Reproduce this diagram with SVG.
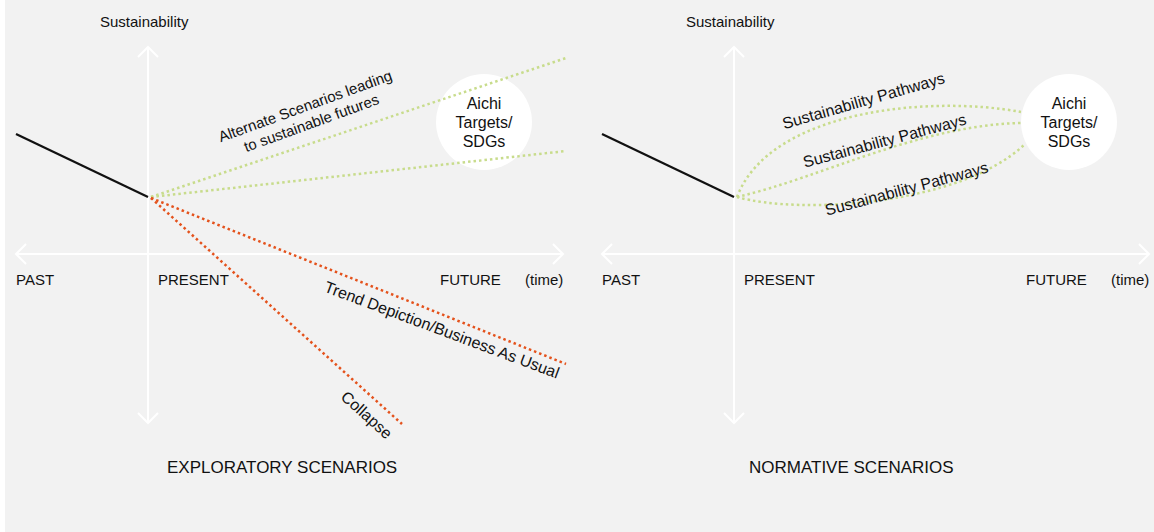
<svg xmlns="http://www.w3.org/2000/svg" width="1154" height="532" viewBox="0 0 1154 532">
<defs>
<style>
.bg{fill:#f2f2f2}
.axis{stroke:#ffffff;stroke-width:2;fill:none}
.past{stroke:#111111;stroke-width:2.2;fill:none}
.green{stroke:#c8dc8c;stroke-width:2.5;stroke-dasharray:2.5 3;fill:none}
.red{stroke:#e4521c;stroke-width:2.5;stroke-dasharray:2.5 3;fill:none}
text{font-family:"Liberation Sans",Arial,Helvetica,sans-serif;fill:#111111}
.lbl{font-size:15px}
.rot{font-size:16px;text-anchor:middle}
.rot15{font-size:15px;text-anchor:middle}
.node{fill:#ffffff}
.nt{font-size:16px;text-anchor:middle}
.title{font-size:17px}
</style>
</defs>
<rect class="bg" x="5" y="0" width="1149" height="532"/>

<!-- LEFT PANEL: EXPLORATORY -->
<g id="left-axes">
<path class="axis" d="M148,47 V423 M138,57 L148,47 L158,57 M138,413 L148,423 L158,413"/>
<path class="axis" d="M16,254 H563 M26,244 L16,254 L26,264 M553,244 L563,254 L553,264"/>
</g>
<g id="left-labels">
<text class="lbl" x="100" y="27">Sustainability</text>
<text class="lbl" x="16" y="285">PAST</text>
<text class="lbl" x="158" y="285">PRESENT</text>
<text class="lbl" x="440" y="285">FUTURE</text>
<text class="lbl" x="525" y="285">(time)</text>
<text class="title" x="167" y="473">EXPLORATORY SCENARIOS</text>
</g>
<g id="left-target">
<circle class="node" cx="484" cy="122" r="48"/>
<text class="nt" x="484" y="108.5">Aichi</text>
<text class="nt" x="484" y="127.5">Targets/</text>
<text class="nt" x="484" y="146.5">SDGs</text>
</g>
<g id="left-connectors">
<path class="past" d="M16,134 L148,197"/>
<path class="green" d="M151,197 L566,58"/>
<path class="green" d="M151,197 L566,151"/>
<path class="red" d="M151,198 L566,364"/>
<path class="red" d="M151,198 L402,424"/>
</g>
<g id="left-connector-labels">
<g transform="translate(307,111) rotate(-20)">
<text class="rot15" x="0" y="0">Alternate Scenarios leading</text>
<text class="rot15" x="0" y="18">to sustainable futures</text>
</g>
<text class="rot" transform="translate(440,335) rotate(20.5)">Trend Depiction/Business As Usual</text>
<text class="rot" transform="translate(363,419) rotate(42)">Collapse</text>
</g>

<!-- RIGHT PANEL: NORMATIVE -->
<g id="right-axes">
<path class="axis" d="M734,47 V423 M724,57 L734,47 L744,57 M724,413 L734,423 L744,413"/>
<path class="axis" d="M602,254 H1149 M612,244 L602,254 L612,264 M1139,244 L1149,254 L1139,264"/>
</g>
<g id="right-labels">
<text class="lbl" x="686" y="27">Sustainability</text>
<text class="lbl" x="602" y="285">PAST</text>
<text class="lbl" x="744" y="285">PRESENT</text>
<text class="lbl" x="1026" y="285">FUTURE</text>
<text class="lbl" x="1111" y="285">(time)</text>
<text class="title" x="749" y="473">NORMATIVE SCENARIOS</text>
</g>
<g id="right-target">
<circle class="node" cx="1069" cy="122" r="48"/>
<text class="nt" x="1069" y="108.5">Aichi</text>
<text class="nt" x="1069" y="127.5">Targets/</text>
<text class="nt" x="1069" y="146.5">SDGs</text>
</g>
<g id="right-connectors">
<path class="past" d="M602,134 L734,197"/>
<path class="green" d="M737,197 C770,110 930,95 1021,112"/>
<path class="green" d="M737,197 C820,178 920,125 1021,123"/>
<path class="green" d="M737,197 C800,215 960,205 1024,145"/>
</g>
<g id="right-connector-labels">
<text class="rot" transform="translate(865,106) rotate(-16)">Sustainability Pathways</text>
<text class="rot" transform="translate(886,146) rotate(-15)">Sustainability Pathways</text>
<text class="rot" transform="translate(908,194) rotate(-15)">Sustainability Pathways</text>
</g>
</svg>
